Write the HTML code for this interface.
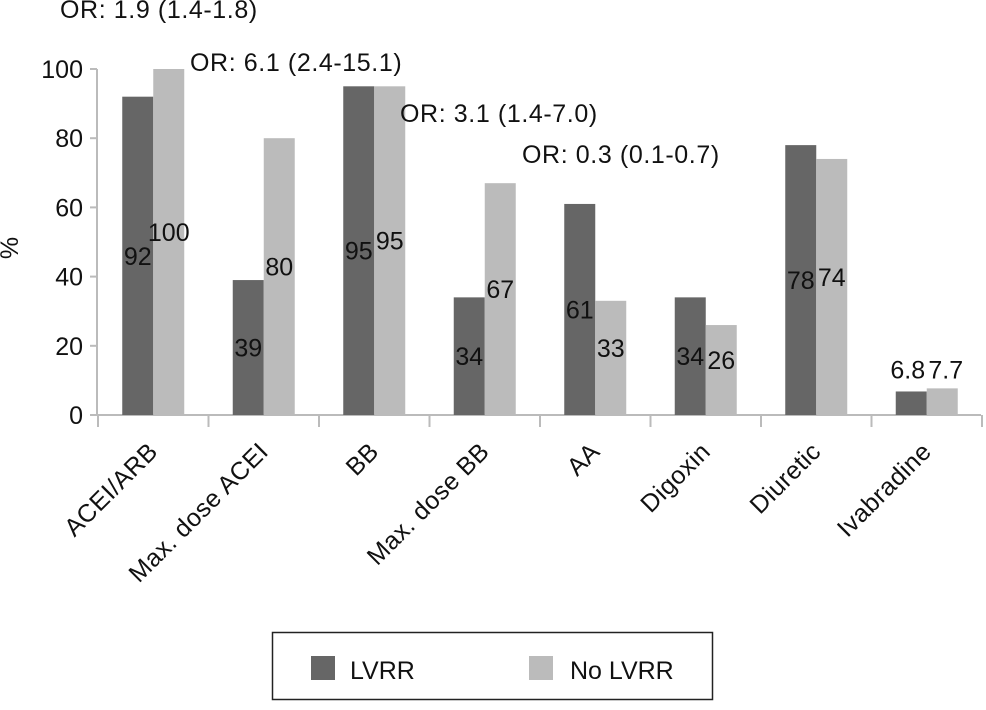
<!DOCTYPE html>
<html><head><meta charset="utf-8"><style>
html,body{margin:0;padding:0;background:#fff;}
svg text{font-family:"Liberation Sans",Arial,sans-serif;fill:#111;}
</style></head><body>
<svg id="chart" width="986" height="705" xmlns="http://www.w3.org/2000/svg"></svg>
<script>
const categories=["ACEI/ARB","Max. dose ACEI","BB","Max. dose BB","AA","Digoxin","Diuretic","Ivabradine"];
const lvrr=[92,39,95,34,61,34,78,6.8];
const noLvrr=[100,80,95,67,33,26,74,7.7];
const lvrrLabels=["92","39","95","34","61","34","78","6.8"];
const noLvrrLabels=["100","80","95","67","33","26","74","7.7"];
const yTicks=[0,20,40,60,80,100];
const orNotes=["OR: 1.9 (1.4-1.8)","OR: 6.1 (2.4-15.1)","OR: 3.1 (1.4-7.0)","OR: 0.3 (0.1-0.7)"];

const NS="http://www.w3.org/2000/svg";
const svg=document.getElementById('chart');
const x0=97,y0=415,plotH=346,catW=110.5,barW=31;
const FS=25;
const y=v=>y0-v/100*plotH;
const cx=i=>x0+catW*i+catW/2;
function mk(tag,attrs,parent){const e=document.createElementNS(NS,tag);for(const k in attrs)e.setAttribute(k,attrs[k]);(parent||svg).appendChild(e);return e;}

let ax=mk('line',{x1:x0,y1:y(100),x2:x0,y2:y0,stroke:'#bbb','stroke-width':2});


let xa=mk('line',{x1:x0,y1:y0,x2:x0+catW*categories.length,y2:y0,stroke:'#bbb','stroke-width':2});


yTicks.forEach(t=>{
  let l=mk('line',{x1:x0-7,y1:y(t),x2:x0,y2:y(t),stroke:'#bbb','stroke-width':2});
  
  
  let tx=mk('text',{x:x0-14,y:y(t)+9,'text-anchor':'end','font-size':FS});
  tx.textContent=t;
  
  
});
for(let i=0;i<=categories.length;i++){
  let l=mk('line',{x1:x0+catW*i+1,y1:y0,x2:x0+catW*i+1,y2:y0+12,stroke:'#bbb','stroke-width':2});
  
  
}
let yt=mk('text',{x:18,y:248,'text-anchor':'middle','font-size':FS,transform:'rotate(-90 18 248)'});
yt.textContent='%';



categories.forEach((c,i)=>{
  const xc=cx(i);
  let b1=mk('rect',{x:xc-30,y:y(lvrr[i]),width:barW,height:y0-y(lvrr[i]),fill:'#666'});
  
  
  let b2=mk('rect',{x:xc+1,y:y(noLvrr[i]),width:barW,height:y0-y(noLvrr[i]),fill:'#bbb'});
  
  
  const small=lvrr[i]<15;
  let l1=mk('text',{x:small?xc-18:xc-14.5,y:small?y(lvrr[i])-13:(y(lvrr[i])+y0)/2+9,'text-anchor':'middle','font-size':FS});
  l1.textContent=lvrrLabels[i];
  
  
  let l2=mk('text',{x:small?xc+20:xc+16.5,y:small?y(lvrr[i])-13:(y(noLvrr[i])+y0)/2+9-10,'text-anchor':'middle','font-size':FS});
  l2.textContent=noLvrrLabels[i];
  
  
  const ex=xc+7,ey=y0+38;
  let lab=mk('text',{x:ex,y:ey,'text-anchor':'end','font-size':FS,'letter-spacing':0.4,transform:`rotate(-45 ${ex} ${ey})`});
  lab.textContent=c;
  
  
});

const orPos=[[60,18],[190,71],[400,122],[522,163]];
orNotes.forEach((n,i)=>{
  let t=mk('text',{x:orPos[i][0],y:orPos[i][1],'font-size':FS,'letter-spacing':0.6});
  t.textContent=n;
  
  
});

let lg=mk('g',{});


mk('rect',{x:272.5,y:632.5,width:440,height:67,fill:'#fff',stroke:'#222','stroke-width':1.5},lg);
let s1=mk('rect',{x:311,y:656,width:24,height:24,fill:'#666'},lg);


let t1=mk('text',{x:350,y:679,'font-size':FS},lg);
t1.textContent='LVRR';


let s2=mk('rect',{x:529,y:656,width:24,height:24,fill:'#bbb'},lg);


let t2=mk('text',{x:570,y:679,'font-size':FS},lg);
t2.textContent='No LVRR';


</script>
</body></html>
